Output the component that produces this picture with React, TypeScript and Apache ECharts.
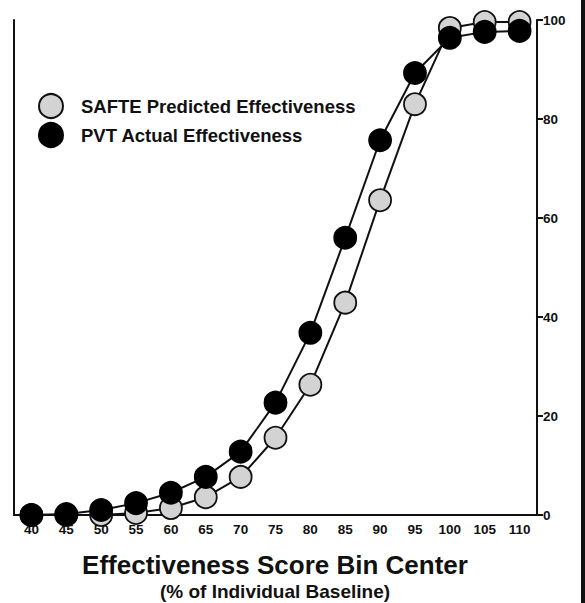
import React, { useEffect, useRef } from "react";
import * as echarts from "echarts";

const categories = ["40", "45", "50", "55", "60", "65", "70", "75", "80", "85", "90", "95", "100", "105", "110"];
const safteValues = [0, 0, 0, 0.4, 1.4, 3.6, 7.7, 15.6, 26.3, 42.9, 63.6, 83, 98.4, 99.6, 99.6];
const pvtValues = [0, 0.2, 1, 2.4, 4.5, 7.7, 12.8, 22.7, 36.8, 56, 75.7, 89.3, 96.4, 97.6, 97.8];
const yTicks = [0, 20, 40, 60, 80, 100];

const FONT = "'Liberation Sans', Arial, Helvetica, sans-serif";

export default function App() {
  const ref = useRef<HTMLDivElement>(null);
  useEffect(() => {
    if (!ref.current) return;
    const chart = echarts.init(ref.current, undefined, { renderer: "svg" });
    chart.setOption({
      animation: false,
      backgroundColor: "#ffffff",
      textStyle: { fontFamily: FONT },
      grid: { left: 14, right: 48, top: 20, bottom: 88, containLabel: false },
      legend: {
        orient: "vertical",
        left: 38,
        top: 93,
        padding: 0,
        itemWidth: 24,
        itemHeight: 24,
        itemGap: 3,
        icon: "circle",
        textStyle: { fontFamily: FONT, fontWeight: "bold", fontSize: 18.5, color: "#111", padding: [0, 0, 0, 13] },
        data: ["SAFTE Predicted Effectiveness", "PVT Actual Effectiveness"],
      },
      xAxis: {
        type: "category",
        data: categories,
        boundaryGap: true,
        axisLine: { lineStyle: { color: "#111", width: 2 } },
        axisTick: { alignWithLabel: true, length: 6, lineStyle: { color: "#111", width: 2 } },
        axisLabel: { fontFamily: FONT, fontWeight: "bold", fontSize: 13.5, color: "#111", margin: 7 },
        splitLine: { show: false },
      },
      yAxis: [
        {
          type: "value",
          position: "right",
          min: 0,
          max: 100,
          interval: 20,
          axisLine: { show: true, lineStyle: { color: "#111", width: 2 } },
          axisTick: { show: true, length: 6, lineStyle: { color: "#111", width: 2 } },
          axisLabel: {
            fontFamily: FONT,
            fontWeight: "bold",
            fontSize: 13.5,
            color: "#111",
            margin: 6,
            formatter: (v: number) => (yTicks.includes(v) ? String(v) : ""),
          },
          splitLine: { show: false },
        },
        {
          type: "value",
          position: "left",
          min: 0,
          max: 100,
          interval: 20,
          axisLine: { show: true, lineStyle: { color: "#111", width: 2 } },
          axisTick: { show: false },
          axisLabel: { show: false },
          splitLine: { show: false },
        },
      ],
      series: [
        {
          name: "SAFTE Predicted Effectiveness",
          type: "line",
          data: safteValues,
          symbol: "circle",
          symbolSize: 22,
          lineStyle: { color: "#111", width: 2 },
          itemStyle: { color: "#d3d3d3", borderColor: "#111", borderWidth: 1.8 },
          z: 2,
        },
        {
          name: "PVT Actual Effectiveness",
          type: "line",
          data: pvtValues,
          symbol: "circle",
          symbolSize: 22,
          lineStyle: { color: "#111", width: 2 },
          itemStyle: { color: "#000", borderColor: "#000", borderWidth: 1.8 },
          z: 3,
        },
      ],
      graphic: [
        {
          type: "text",
          x: 275,
          y: 565,
          style: {
            text: "Effectiveness Score Bin Center",
            fontFamily: FONT,
            fontWeight: "bold",
            fontSize: 26,
            fill: "#111",
            textAlign: "center",
            textVerticalAlign: "middle",
          },
        },
        {
          type: "text",
          x: 275,
          y: 591,
          style: {
            text: "(% of Individual Baseline)",
            fontFamily: FONT,
            fontWeight: "bold",
            fontSize: 19,
            fill: "#111",
            textAlign: "center",
            textVerticalAlign: "middle",
          },
        },
        {
          type: "rect",
          shape: { x: 581, y: 0, width: 4, height: 603 },
          style: { fill: "#111" },
        },
      ],
    });
    return () => chart.dispose();
  }, []);
  return <div ref={ref} style={{ width: 585, height: 603, position: "absolute", left: 0, top: 0 }} />;
}
